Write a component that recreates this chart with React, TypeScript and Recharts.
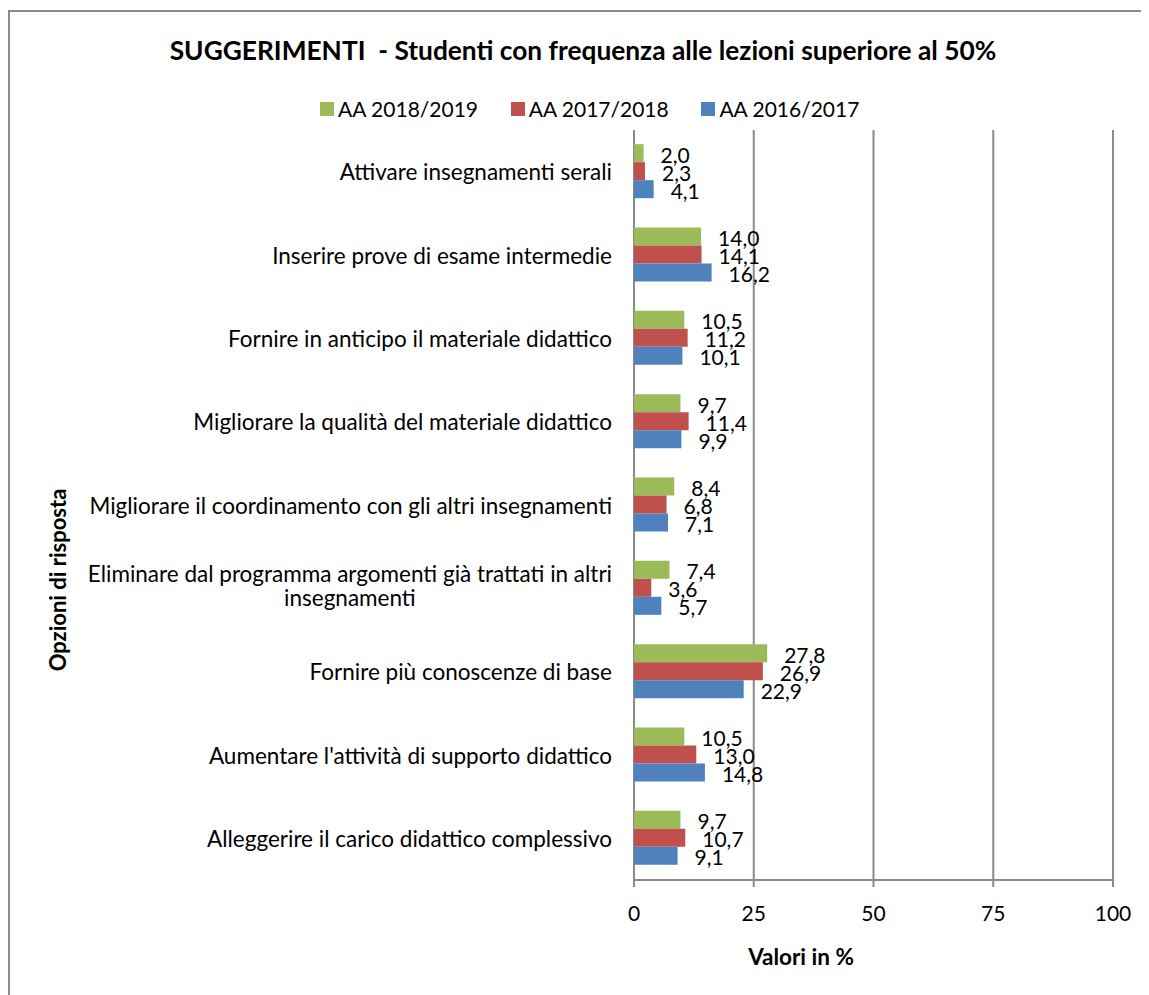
import React from 'react';
import { BarChart, Bar, XAxis, YAxis, CartesianGrid, Legend, LabelList } from 'recharts';

const categories = [
  'Attivare insegnamenti serali',
  'Inserire prove di esame intermedie',
  'Fornire in anticipo il materiale didattico',
  'Migliorare la qualità del materiale didattico',
  'Migliorare il coordinamento con gli altri insegnamenti',
  'Eliminare dal programma argomenti già trattati in altri insegnamenti',
  'Fornire più conoscenze di base',
  "Aumentare l'attività di supporto didattico",
  'Alleggerire il carico didattico complessivo',
];
const aa2018 = [2.0, 14.0, 10.5, 9.7, 8.4, 7.4, 27.8, 10.5, 9.7];
const aa2017 = [2.3, 14.1, 11.2, 11.4, 6.8, 3.6, 26.9, 13.0, 10.7];
const aa2016 = [4.1, 16.2, 10.1, 9.9, 7.1, 5.7, 22.9, 14.8, 9.1];
const seriesNames = ['AA 2018/2019', 'AA 2017/2018', 'AA 2016/2017'];
const seriesKeys = ['a2018', 'a2017', 'a2016'];
const seriesColors = ['#9BBB59', '#C0504D', '#4F81BD'];
const xTicks = [0, 25, 50, 75, 100];
const boundaryTicks = [0, 1, 2, 3, 4, 5, 6, 7, 8, 9];
const title = 'SUGGERIMENTI  - Studenti con frequenza alle lezioni superiore al 50%';
const xTitle = 'Valori in %';
const yTitle = 'Opzioni di risposta';

const data = categories.map((name, i) => ({
  name,
  a2018: aa2018[i],
  a2017: aa2017[i],
  a2016: aa2016[i],
}));

const FONT = "Lato, 'Noto Sans', sans-serif";
const FS = 21;
const CAT_FS = 22.5;
const GRAY = '#8a8a8a';

let ctx: CanvasRenderingContext2D | null = null;
function textWidth(s: string, size: number): number {
  if (!ctx) ctx = document.createElement('canvas').getContext('2d');
  if (!ctx) return s.length * size * 0.5;
  ctx.font = `${size}px Lato`;
  return ctx.measureText(s).width;
}
function wrap(s: string, max: number, size: number): string[] {
  const words = s.split(' ');
  const lines: string[] = [];
  let cur = '';
  for (const w of words) {
    const t = cur ? cur + ' ' + w : w;
    if (cur && textWidth(t, size) > max) {
      lines.push(cur);
      cur = w;
    } else cur = t;
  }
  if (cur) lines.push(cur);
  return lines;
}

const CatTick = (props: any) => {
  const { x, y, payload } = props;
  const lines = wrap(String(payload.value), 560, CAT_FS);
  if (lines.length === 1) {
    return (
      <text x={x} y={y} textAnchor="end" dominantBaseline="central" fontFamily={FONT} fontSize={CAT_FS} fill="#000">
        {lines[0]}
      </text>
    );
  }
  const w = Math.max(...lines.map((l) => textWidth(l, CAT_FS)));
  const cx = x - w / 2;
  return (
    <g>
      {lines.map((l, i) => (
        <text key={i} x={cx} y={y - 15 + i * 24} textAnchor="middle" dominantBaseline="central" fontFamily={FONT} fontSize={CAT_FS} fill="#000">
          {l}
        </text>
      ))}
    </g>
  );
};

const XTick = (props: any) => {
  const { x, y, payload } = props;
  return (
    <text x={x} y={y + 25} textAnchor="middle" dominantBaseline="central" fontFamily={FONT} fontSize={FS} fill="#000">
      {payload.value}
    </text>
  );
};

const EmptyTick = () => <g />;

const ValueLabel = (props: any) => {
  const { x, y, width, height, value } = props;
  return (
    <text x={x + width + 17} y={y + height / 2 + 1} textAnchor="start" dominantBaseline="central" fontFamily={FONT} fontSize={FS} fill="#000">
      {Number(value).toFixed(1).replace('.', ',')}
    </text>
  );
};

const LegendContent = () => (
  <div style={{ display: 'flex', fontFamily: FONT, fontSize: FS, color: '#000', lineHeight: '24px' }}>
    {seriesNames.map((n, i) => (
      <div key={n} style={{ display: 'flex', alignItems: 'center', width: 190.7, whiteSpace: 'nowrap' }}>
        <span style={{ display: 'inline-block', width: 14, height: 14, background: seriesColors[i], marginRight: 4 }} />
        <span>{n}</span>
      </div>
    ))}
  </div>
);

export default function App() {
  return (
    <div style={{ position: 'relative', width: 1141, height: 987, overflow: 'hidden', background: '#fff' }}>
      <div
        style={{
          position: 'absolute',
          left: 0,
          top: 2,
          width: 1300,
          height: 1300,
          border: `2px solid ${GRAY}`,
          boxSizing: 'border-box',
        }}
      />
      <BarChart
        width={1141}
        height={987}
        data={data}
        layout="vertical"
        margin={{ top: 122, right: 36, bottom: 55, left: 0 }}
        barCategoryGap="17%"
        barGap={0}
      >
        <CartesianGrid horizontal={false} vertical={true} stroke={GRAY} strokeWidth={2} />
        <XAxis
          type="number"
          domain={[0, 100]}
          ticks={xTicks}
          interval={0}
          height={60}
          tickSize={7}
          tickMargin={0}
          axisLine={{ stroke: GRAY, strokeWidth: 2 }}
          tickLine={{ stroke: GRAY, strokeWidth: 2 }}
          tick={<XTick />}
        />
        <YAxis
          type="number"
          domain={[0, 9]}
          ticks={boundaryTicks}
          interval={0}
          width={0}
          tickSize={7}
          axisLine={{ stroke: GRAY, strokeWidth: 2 }}
          tickLine={{ stroke: GRAY, strokeWidth: 2 }}
          tick={<EmptyTick />}
          allowDataOverflow
        />
        <YAxis
          yAxisId="cat"
          type="category"
          dataKey="name"
          width={626}
          interval={0}
          axisLine={false}
          tickLine={false}
          tickSize={0}
          tickMargin={22}
          tick={<CatTick />}
        />
        <Legend
          layout="horizontal"
          verticalAlign="middle"
          align="center"
          wrapperStyle={{ top: 89, left: 312, width: 700 }}
          content={<LegendContent />}
        />
        {seriesKeys.map((k, i) => (
          <Bar key={k} dataKey={k} name={seriesNames[i]} yAxisId="cat" fill={seriesColors[i]} isAnimationActive={false}>
            <LabelList dataKey={k} content={<ValueLabel />} />
          </Bar>
        ))}
      </BarChart>
      <div
        style={{
          position: 'absolute',
          left: 161,
          width: 828,
          top: 26,
          textAlign: 'center',
          fontFamily: FONT,
          fontWeight: 700,
          fontSize: 26.3,
          lineHeight: '32px',
          whiteSpace: 'pre',
          color: '#000',
        }}
      >
        {title}
      </div>
      <div
        style={{
          position: 'absolute',
          left: 693,
          width: 200,
          top: 935,
          textAlign: 'center',
          fontFamily: FONT,
          fontWeight: 700,
          fontSize: 22.5,
          lineHeight: '28px',
          color: '#000',
        }}
      >
        {xTitle}
      </div>
      <div
        style={{
          position: 'absolute',
          left: 50 - 150,
          width: 300,
          top: 572 - 14,
          height: 28,
          textAlign: 'center',
          fontFamily: FONT,
          fontWeight: 700,
          fontSize: 22,
          lineHeight: '28px',
          color: '#000',
          transform: 'rotate(-90deg)',
          transformOrigin: '150px 14px',
        }}
      >
        {yTitle}
      </div>
    </div>
  );
}
